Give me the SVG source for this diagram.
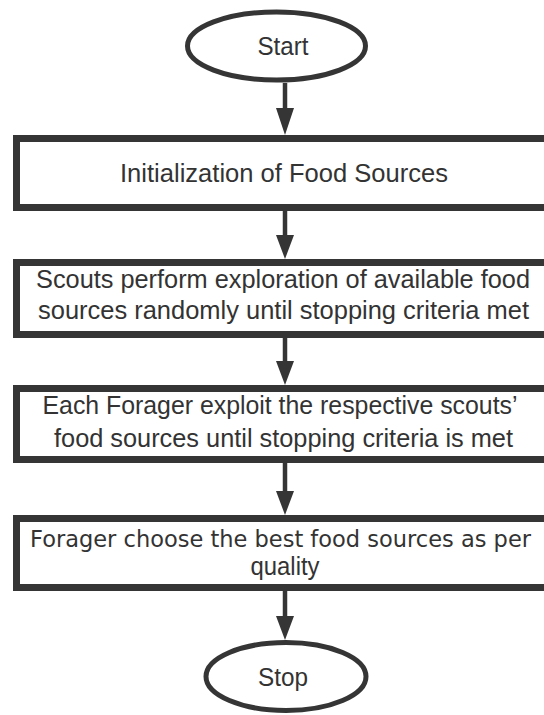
<svg xmlns="http://www.w3.org/2000/svg" width="544" height="715" viewBox="0 0 544 715">
<style>
.bg{fill:#ffffff}
.term{fill:#ffffff;stroke:#353535;stroke-width:5}
.box{fill:#ffffff;stroke:#353535;stroke-width:7}
.lbl{font-family:"Liberation Sans",Arial,sans-serif;font-size:25px;fill:#333333;text-anchor:middle}
.lbl2{font-family:"DejaVu Sans","Liberation Sans",sans-serif;font-size:23px;fill:#333333;text-anchor:middle}
.conn line{stroke:#353535;stroke-width:4.5}
.conn polygon{fill:#353535}
</style>
<rect class="bg" x="0" y="0" width="544" height="715"/>
<g id="connectors" class="conn">
  <line x1="285" y1="83" x2="285" y2="112"/>
  <polygon points="276,108 294,108 285,135"/>
  <line x1="285" y1="211" x2="285" y2="238"/>
  <polygon points="276,235 294,235 285,259"/>
  <line x1="285" y1="338" x2="285" y2="364"/>
  <polygon points="276,361 294,361 285,385"/>
  <line x1="285" y1="463" x2="285" y2="494"/>
  <polygon points="276,491 294,491 285,515"/>
  <line x1="285" y1="591" x2="285" y2="619"/>
  <polygon points="276,616 294,616 285,640"/>
</g>
<g id="start">
  <ellipse class="term" cx="276.5" cy="46" rx="89" ry="34"/>
  <text class="lbl" x="283" y="55" textLength="51" lengthAdjust="spacingAndGlyphs">Start</text>
</g>
<g id="init">
  <rect class="box" x="16.5" y="138.5" width="540" height="69"/>
  <text class="lbl" x="284" y="182" textLength="328" lengthAdjust="spacingAndGlyphs">Initialization of Food Sources</text>
</g>
<g id="scouts">
  <rect class="box" x="16.5" y="262.5" width="540" height="72"/>
  <text class="lbl" x="283" y="288" textLength="494" lengthAdjust="spacingAndGlyphs">Scouts perform exploration of available food</text>
  <text class="lbl" x="283.5" y="319" textLength="491" lengthAdjust="spacingAndGlyphs">sources randomly until stopping criteria met</text>
</g>
<g id="forager-exploit">
  <rect class="box" x="16.5" y="388.5" width="540" height="71"/>
  <text class="lbl" x="280" y="414" textLength="475" lengthAdjust="spacingAndGlyphs">Each Forager exploit the respective scouts’</text>
  <text class="lbl" x="283.5" y="447" textLength="459" lengthAdjust="spacingAndGlyphs">food sources until stopping criteria is met</text>
</g>
<g id="forager-choose">
  <rect class="box" x="16.5" y="518.5" width="540" height="69"/>
  <text class="lbl2" x="280.5" y="547" textLength="501" lengthAdjust="spacingAndGlyphs">Forager choose the best food sources as per</text>
  <text class="lbl" x="285" y="575" textLength="69" lengthAdjust="spacingAndGlyphs">quality</text>
</g>
<g id="stop">
  <ellipse class="term" cx="286" cy="676.5" rx="80" ry="34"/>
  <text class="lbl" x="283" y="686" textLength="50" lengthAdjust="spacingAndGlyphs">Stop</text>
</g>
</svg>
